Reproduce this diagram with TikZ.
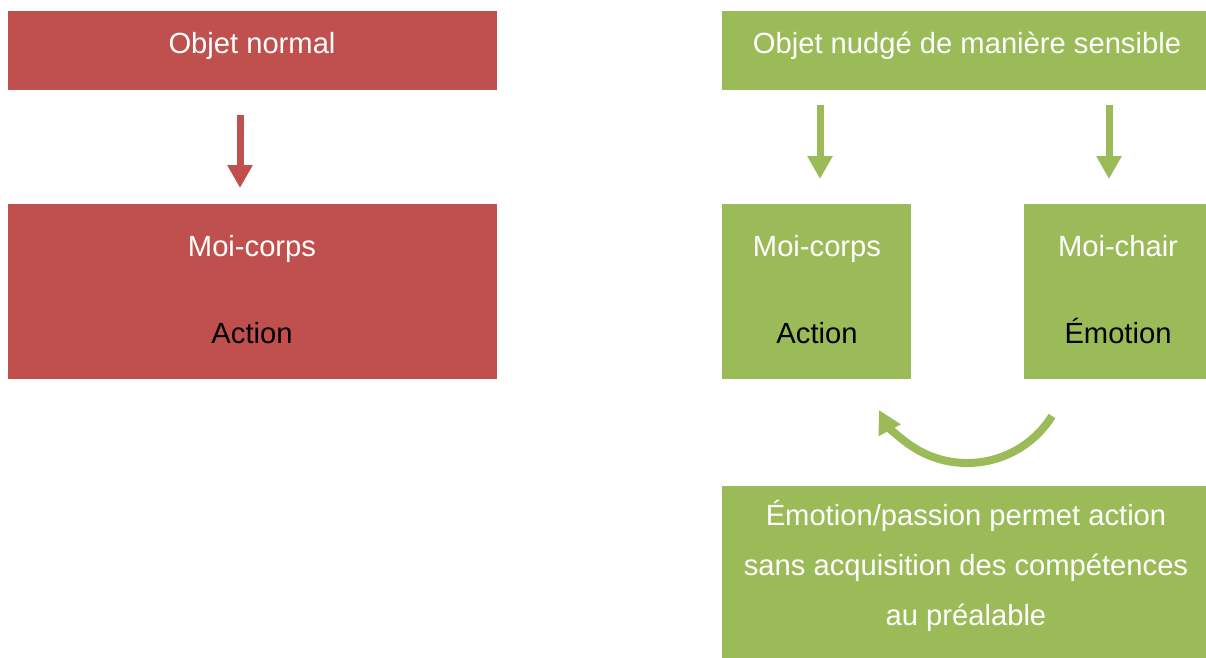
\documentclass[tikz,border=0pt]{standalone}
\usepackage{xcolor}
\usepackage{fontspec}
\setmainfont{Liberation Sans}
\usetikzlibrary{positioning,arrows.meta}

\definecolor{boxred}{HTML}{C0504D}
\definecolor{boxgreen}{HTML}{9BBB59}

\begin{document}
\begin{tikzpicture}[
    box/.style={rectangle,inner sep=0pt,outer sep=0pt,minimum height=1.58cm},
    tallbox/.style={box,minimum height=3.5cm},
    txt/.style={anchor=base,inner sep=0pt,align=center,font=\fontsize{16.6}{28.45}\selectfont},
    arrow/.style={-{Triangle[width=0.48cm,length=0.46cm]},line width=0.14cm},
    bendarrow/.style={-{Triangle[width=0.47cm,length=0.46cm]},line width=0.16cm}
    ]
    \useasboundingbox (0,0) rectangle (24.12,-13.16);

    % left column
    \node[box,fill=boxred,minimum width=9.78cm] (normal) at (5.05,-1.01) {};
    \node[tallbox,fill=boxred,minimum width=9.78cm] (corps) at (5.05,-5.83) {};

    \node[txt,white] (normaltxt) at (5.04,-1.06) {Objet normal};
    \node[txt,white] (corpstxt) at (5.04,-5.12) {Moi-corps};
    \node[txt,black] (actiontxt) at (5.04,-6.86) {Action};

    \draw[arrow,boxred,shorten <=0.5cm,shorten >=0.32cm]
      ([xshift=-0.25cm]normal.south)--([xshift=-0.25cm]corps.north);

    % right column
    \node[box,fill=boxgreen,minimum width=9.68cm] (nudge) at (19.28,-1.01) {};
    \node[tallbox,fill=boxgreen,minimum width=3.78cm] (gcorps) at (16.33,-5.83) {};
    \node[tallbox,fill=boxgreen,minimum width=3.64cm] (gchair) at (22.30,-5.83) {};
    \node[box,fill=boxgreen,minimum width=9.68cm,minimum height=3.44cm] (passion) at (19.28,-11.44) {};

    \node[txt,white] (nudgetxt) at (19.34,-1.06) {Objet nudgé de manière sensible};
    \node[txt,white] (gcorpstxt) at (16.34,-5.12) {Moi-corps};
    \node[txt,black] (gactiontxt) at (16.34,-6.86) {Action};
    \node[txt,white] (gchairtxt) at (22.36,-5.12) {Moi-chair};
    \node[txt,black] (gemotiontxt) at (22.36,-6.86) {Émotion};
    % base of a multi-line node is its last line
    \node[txt,white] (passiontxt) at (19.32,-12.50) {Émotion/passion permet action\\
      sans acquisition des compétences\\
      au préalable};

    \draw[arrow,boxgreen,shorten <=0.3cm,shorten >=0.5cm]
      ([xshift=0.07cm]gcorps.north |- nudge.south)--([xshift=0.07cm]gcorps.north);
    \draw[arrow,boxgreen,shorten <=0.3cm,shorten >=0.5cm]
      ([xshift=-0.12cm]gchair.north |- nudge.south)--([xshift=-0.12cm]gchair.north);

    \coordinate (loopstart) at (21.04,-8.32);
    \draw[bendarrow,boxgreen] (loopstart) arc[start angle=-32,end angle=-152,radius=2cm];

  \end{tikzpicture}
\end{document}
